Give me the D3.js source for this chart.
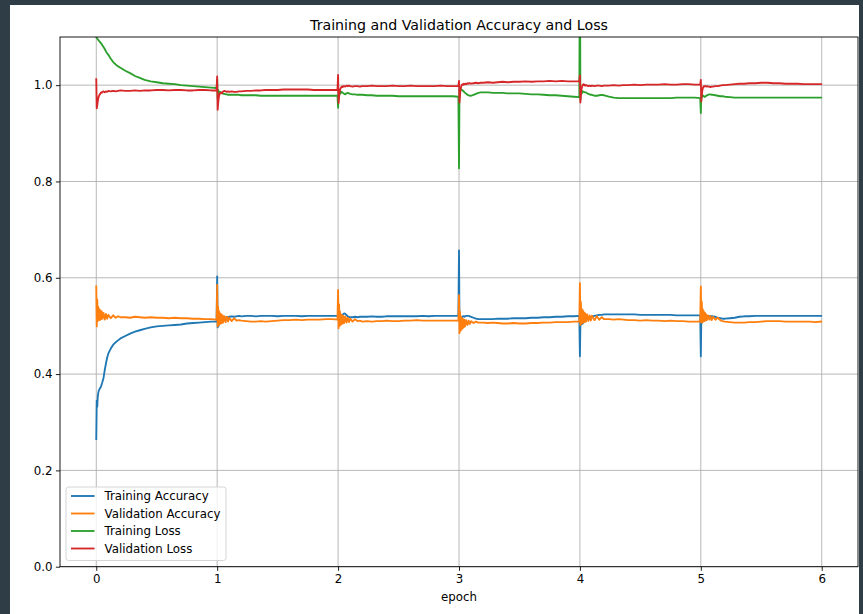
<!DOCTYPE html>
<html>
<head>
<meta charset="utf-8">
<script src="https://cdn.jsdelivr.net/npm/d3@7"></script>
<style>
  html, body { margin: 0; padding: 0; background: #2f3d47; }
  svg { display: block; font-family: "DejaVu Sans", sans-serif; }
</style>
</head>
<body>
<svg id="chart" width="863" height="614"></svg>
<script>
// ---- data ------------------------------------------------------------
const epochTicks = [0, 1, 2, 3, 4, 5, 6];
const valueTicks = [0.0, 0.2, 0.4, 0.6, 0.8, 1.0];

// logged positions inside one epoch (denser right after each epoch start)
const stepOffsets = [0, 0.004, 0.008, 0.012, 0.016, 0.02, 0.025, 0.03, 0.035, 0.04,
  0.045, 0.05, 0.06, 0.07, 0.08, 0.09, 0.1, 0.12, 0.14, 0.16, 0.18, 0.2, 0.24, 0.28,
  0.32, 0.36, 0.4, 0.45, 0.5, 0.55, 0.6, 0.65, 0.7, 0.75, 0.8, 0.85, 0.9, 0.95, 0.995];

// one row per epoch, one value per step offset
const trainAcc = [
  [0.265, 0.345, 0.332, 0.352, 0.36, 0.365, 0.368, 0.37, 0.372, 0.375, 0.379, 0.383, 0.392, 0.408, 0.422, 0.434, 0.443, 0.453, 0.461, 0.466, 0.470, 0.474, 0.479, 0.484, 0.488, 0.491, 0.494, 0.497, 0.499, 0.500, 0.501, 0.502, 0.503, 0.505, 0.506, 0.507, 0.508, 0.509, 0.509],
  [0.603, 0.497, 0.515, 0.5, 0.512, 0.506, 0.514, 0.51, 0.516, 0.513, 0.517, 0.515, 0.518, 0.517, 0.519, 0.518, 0.519, 0.52, 0.519, 0.52, 0.521, 0.52, 0.521, 0.521, 0.52, 0.521, 0.521, 0.521, 0.52, 0.521, 0.521, 0.521, 0.52, 0.521, 0.521, 0.521, 0.521, 0.521, 0.521],
  [0.52, 0.516, 0.52, 0.514, 0.519, 0.517, 0.52, 0.521, 0.522, 0.524, 0.525, 0.526, 0.525, 0.522, 0.52, 0.518, 0.518, 0.518, 0.519, 0.518, 0.519, 0.519, 0.519, 0.52, 0.519, 0.519, 0.52, 0.52, 0.52, 0.52, 0.52, 0.52, 0.521, 0.52, 0.521, 0.521, 0.521, 0.521, 0.521],
  [0.657, 0.512, 0.518, 0.515, 0.519, 0.517, 0.518, 0.519, 0.52, 0.52, 0.519, 0.52, 0.521, 0.521, 0.521, 0.52, 0.519, 0.517, 0.515, 0.514, 0.514, 0.514, 0.514, 0.514, 0.515, 0.515, 0.515, 0.516, 0.516, 0.516, 0.517, 0.517, 0.518, 0.518, 0.519, 0.519, 0.52, 0.52, 0.521],
  [0.437, 0.503, 0.502, 0.505, 0.504, 0.506, 0.505, 0.507, 0.508, 0.509, 0.511, 0.512, 0.514, 0.516, 0.518, 0.519, 0.52, 0.521, 0.522, 0.523, 0.523, 0.524, 0.524, 0.524, 0.524, 0.524, 0.524, 0.524, 0.523, 0.523, 0.523, 0.523, 0.523, 0.523, 0.522, 0.522, 0.522, 0.522, 0.522],
  [0.437, 0.51, 0.506, 0.512, 0.51, 0.514, 0.513, 0.515, 0.516, 0.517, 0.518, 0.518, 0.519, 0.52, 0.52, 0.52, 0.52, 0.519, 0.517, 0.516, 0.515, 0.515, 0.516, 0.517, 0.519, 0.52, 0.52, 0.521, 0.521, 0.521, 0.521, 0.521, 0.521, 0.521, 0.521, 0.521, 0.521, 0.521, 0.521]
];

const valAcc = [
  [0.582, 0.499, 0.555, 0.51, 0.54, 0.513, 0.535, 0.512, 0.532, 0.514, 0.53, 0.515, 0.527, 0.513, 0.525, 0.515, 0.523, 0.516, 0.522, 0.517, 0.52, 0.518, 0.518, 0.517, 0.519, 0.518, 0.517, 0.518, 0.517, 0.517, 0.516, 0.517, 0.516, 0.516, 0.515, 0.515, 0.514, 0.514, 0.513],
  [0.585, 0.499, 0.54, 0.502, 0.53, 0.504, 0.526, 0.505, 0.524, 0.506, 0.522, 0.507, 0.52, 0.508, 0.519, 0.509, 0.517, 0.51, 0.516, 0.511, 0.512, 0.511, 0.51, 0.509, 0.509, 0.51, 0.509, 0.51, 0.511, 0.512, 0.512, 0.513, 0.512, 0.513, 0.513, 0.513, 0.514, 0.514, 0.513],
  [0.575, 0.495, 0.545, 0.5, 0.53, 0.502, 0.524, 0.504, 0.522, 0.505, 0.52, 0.506, 0.519, 0.507, 0.517, 0.508, 0.515, 0.509, 0.514, 0.51, 0.511, 0.509, 0.51, 0.509, 0.51, 0.51, 0.511, 0.51, 0.51, 0.511, 0.511, 0.512, 0.511, 0.511, 0.511, 0.511, 0.511, 0.511, 0.511],
  [0.564, 0.485, 0.53, 0.49, 0.52, 0.492, 0.516, 0.495, 0.514, 0.497, 0.513, 0.499, 0.512, 0.502, 0.511, 0.504, 0.51, 0.506, 0.509, 0.507, 0.507, 0.507, 0.506, 0.507, 0.506, 0.505, 0.505, 0.506, 0.505, 0.505, 0.506, 0.506, 0.507, 0.507, 0.508, 0.508, 0.508, 0.509, 0.509],
  [0.589, 0.502, 0.55, 0.505, 0.535, 0.506, 0.532, 0.507, 0.528, 0.508, 0.526, 0.509, 0.524, 0.51, 0.522, 0.511, 0.521, 0.512, 0.52, 0.513, 0.518, 0.514, 0.514, 0.513, 0.514, 0.513, 0.512, 0.512, 0.511, 0.512, 0.511, 0.511, 0.51, 0.511, 0.51, 0.51, 0.509, 0.509, 0.509],
  [0.582, 0.507, 0.55, 0.508, 0.535, 0.509, 0.53, 0.51, 0.527, 0.511, 0.524, 0.512, 0.522, 0.513, 0.52, 0.512, 0.519, 0.513, 0.517, 0.512, 0.51, 0.509, 0.508, 0.507, 0.507, 0.507, 0.508, 0.508, 0.509, 0.51, 0.51, 0.51, 0.509, 0.509, 0.509, 0.509, 0.509, 0.508, 0.509]
];

const trainLoss = [
  [1.1, 1.098, 1.097, 1.095, 1.094, 1.093, 1.091, 1.09, 1.088, 1.087, 1.085, 1.083, 1.079, 1.075, 1.07, 1.066, 1.063, 1.055, 1.048, 1.043, 1.039, 1.036, 1.03, 1.025, 1.019, 1.015, 1.011, 1.008, 1.006, 1.004, 1.003, 1.002, 1.0, 0.999, 0.998, 0.997, 0.996, 0.995, 0.994],
  [1.012, 0.972, 0.99, 0.98, 0.987, 0.983, 0.986, 0.985, 0.984, 0.984, 0.983, 0.982, 0.982, 0.981, 0.981, 0.98, 0.98, 0.98, 0.98, 0.98, 0.98, 0.979, 0.979, 0.979, 0.979, 0.978, 0.978, 0.978, 0.978, 0.978, 0.978, 0.978, 0.978, 0.978, 0.978, 0.978, 0.978, 0.978, 0.978],
  [0.953, 0.99, 0.975, 0.988, 0.982, 0.987, 0.984, 0.986, 0.985, 0.984, 0.983, 0.982, 0.981, 0.983, 0.984, 0.983, 0.982, 0.981, 0.981, 0.98, 0.98, 0.98, 0.979, 0.979, 0.978, 0.978, 0.978, 0.978, 0.977, 0.977, 0.977, 0.977, 0.977, 0.977, 0.977, 0.977, 0.977, 0.977, 0.976],
  [0.8275, 0.99, 0.985, 0.992, 0.99, 0.991, 0.99, 0.989, 0.988, 0.987, 0.985, 0.984, 0.982, 0.98, 0.979, 0.978, 0.978, 0.98, 0.982, 0.984, 0.985, 0.985, 0.985, 0.984, 0.984, 0.984, 0.983, 0.983, 0.983, 0.982, 0.981, 0.981, 0.98, 0.979, 0.979, 0.978, 0.977, 0.976, 0.975],
  [1.3, 0.97, 0.99, 0.982, 0.988, 0.984, 0.987, 0.986, 0.986, 0.985, 0.985, 0.985, 0.983, 0.982, 0.981, 0.98, 0.98, 0.978, 0.978, 0.979, 0.98, 0.979, 0.976, 0.974, 0.973, 0.973, 0.973, 0.973, 0.973, 0.973, 0.973, 0.973, 0.973, 0.973, 0.974, 0.974, 0.974, 0.974, 0.973],
  [0.942, 0.98, 0.975, 0.979, 0.977, 0.978, 0.977, 0.976, 0.976, 0.977, 0.978, 0.979, 0.98, 0.981, 0.981, 0.98, 0.98, 0.979, 0.978, 0.977, 0.977, 0.976, 0.975, 0.974, 0.974, 0.974, 0.974, 0.974, 0.974, 0.974, 0.974, 0.974, 0.974, 0.974, 0.974, 0.974, 0.974, 0.974, 0.974]
];

const valLoss = [
  [1.0125, 0.952, 0.958, 0.966, 0.972, 0.976, 0.979, 0.981, 0.983, 0.985, 0.984, 0.986, 0.987, 0.985, 0.987, 0.986, 0.988, 0.987, 0.988, 0.987, 0.988, 0.989, 0.988, 0.988, 0.989, 0.988, 0.989, 0.989, 0.99, 0.99, 0.989, 0.99, 0.99, 0.989, 0.989, 0.99, 0.99, 0.989, 0.989],
  [1.018, 0.949, 0.962, 0.972, 0.978, 0.982, 0.984, 0.983, 0.985, 0.983, 0.986, 0.987, 0.988, 0.987, 0.986, 0.987, 0.986, 0.987, 0.986, 0.986, 0.987, 0.987, 0.988, 0.988, 0.989, 0.989, 0.99, 0.99, 0.99, 0.991, 0.991, 0.991, 0.991, 0.991, 0.99, 0.99, 0.99, 0.99, 0.99],
  [1.021, 0.963, 0.975, 0.985, 0.99, 0.993, 0.995, 0.997, 0.996, 0.998, 0.997, 0.998, 0.997, 0.999, 0.998, 0.999, 0.998, 0.997, 0.998, 0.998, 0.997, 0.998, 0.998, 0.999, 0.998, 0.998, 0.998, 0.999, 0.998, 0.998, 0.999, 0.998, 0.998, 0.998, 0.998, 0.999, 0.998, 0.998, 0.998],
  [1.009, 0.964, 0.978, 0.99, 0.995, 0.999, 1.001, 1.002, 1.001, 1.003, 1.002, 1.003, 1.002, 1.004, 1.003, 1.004, 1.003, 1.004, 1.005, 1.004, 1.005, 1.005, 1.006, 1.005, 1.006, 1.007, 1.006, 1.007, 1.007, 1.008, 1.007, 1.008, 1.008, 1.009, 1.008, 1.009, 1.008, 1.008, 1.008],
  [1.02, 0.964, 0.978, 0.99, 0.995, 0.999, 1.001, 1.002, 1.0, 1.001, 0.999, 1.0, 0.999, 0.998, 0.999, 0.998, 0.999, 0.998, 0.999, 0.999, 0.998, 0.999, 0.999, 1.0, 0.999, 1.0, 1.0, 1.001, 1.0, 1.001, 1.001, 1.001, 1.002, 1.001, 1.001, 1.002, 1.002, 1.001, 1.001],
  [1.011, 0.966, 0.978, 0.988, 0.993, 0.996, 0.998, 0.997, 0.998, 0.998, 0.997, 0.998, 0.997, 0.997, 0.996, 0.997, 0.997, 0.998, 0.998, 0.999, 1.0, 1.0, 1.001, 1.002, 1.003, 1.003, 1.004, 1.004, 1.005, 1.005, 1.004, 1.004, 1.003, 1.003, 1.003, 1.002, 1.002, 1.002, 1.002]
];

const seriesNames = ["Training Accuracy", "Validation Accuracy", "Training Loss", "Validation Loss"];
const seriesColors = ["#1f77b4", "#ff7f0e", "#2ca02c", "#d62728"];
const seriesValues = [trainAcc, valAcc, trainLoss, valLoss];

// ---- layout ----------------------------------------------------------
const svg = d3.select("#chart");
const plot = { left: 60, right: 858, top: 37, bottom: 566.7 };
const FONT = 11.8;

// white figure canvas
svg.append("rect").attr("x", 10).attr("y", 5).attr("width", 849).attr("height", 609).attr("fill", "#ffffff");

const x = d3.scaleLinear().domain([-0.3, 6.3]).range([plot.left, plot.right]);
const y = d3.scaleLinear().domain([0, 1.1]).range([plot.bottom, plot.top]);

// grid
const grid = svg.append("g").attr("stroke", "#b0b0b0").attr("stroke-width", 0.9);
grid.selectAll("line.vx").data(epochTicks).join("line")
  .attr("x1", d => x(d)).attr("x2", d => x(d)).attr("y1", plot.top).attr("y2", plot.bottom);
grid.selectAll("line.hy").data(valueTicks).join("line")
  .attr("x1", plot.left).attr("x2", plot.right).attr("y1", d => y(d)).attr("y2", d => y(d));

// series lines, clipped to the axes box
svg.append("clipPath").attr("id", "plotClip").append("rect")
  .attr("x", plot.left).attr("y", plot.top)
  .attr("width", plot.right - plot.left).attr("height", plot.bottom - plot.top);

const line = d3.line().x(d => x(d.x)).y(d => y(d.y));
const series = seriesValues.map((rows, k) => ({
  name: seriesNames[k],
  color: seriesColors[k],
  points: rows.flatMap((vals, e) => vals.map((v, i) => ({ x: e + stepOffsets[i], y: v })))
}));

svg.append("g").attr("clip-path", "url(#plotClip)")
  .selectAll("path").data(series).join("path")
  .attr("d", d => line(d.points))
  .attr("fill", "none")
  .attr("stroke", d => d.color)
  .attr("stroke-width", 1.85)
  .attr("stroke-linejoin", "round")
  .attr("stroke-linecap", "square");

// axes
const xAxis = d3.axisBottom(x).tickValues(epochTicks).tickFormat(d3.format("d"))
  .tickSize(4.1).tickPadding(3.5);
const yAxis = d3.axisLeft(y).tickValues(valueTicks).tickFormat(d3.format(".1f"))
  .tickSize(4.1).tickPadding(3.5);

const gx = svg.append("g").attr("transform", `translate(0,${plot.bottom})`).call(xAxis);
const gy = svg.append("g").attr("transform", `translate(${plot.left},0)`).call(yAxis);
[gx, gy].forEach(g => {
  g.select(".domain").remove();
  g.selectAll(".tick line").attr("stroke", "#000").attr("stroke-width", 0.9);
  g.selectAll(".tick text").attr("fill", "#000").attr("font-size", FONT)
    .attr("font-family", "DejaVu Sans, sans-serif");
});

// axes frame
svg.append("rect")
  .attr("x", plot.left).attr("y", plot.top)
  .attr("width", plot.right - plot.left).attr("height", plot.bottom - plot.top)
  .attr("fill", "none").attr("stroke", "#000").attr("stroke-width", 0.9);

// title and axis label
svg.append("text").attr("x", (plot.left + plot.right) / 2).attr("y", 29.5)
  .attr("text-anchor", "middle").attr("font-size", 14.2).attr("fill", "#000")
  .text("Training and Validation Accuracy and Loss");
svg.append("text").attr("x", (plot.left + plot.right) / 2).attr("y", 600.5)
  .attr("text-anchor", "middle").attr("font-size", FONT).attr("fill", "#000")
  .text("epoch");

// legend (lower left)
const legend = svg.append("g");
legend.append("rect")
  .attr("x", 66).attr("y", 487).attr("width", 160).attr("height", 73.5)
  .attr("rx", 2.5).attr("fill", "#ffffff").attr("fill-opacity", 0.8)
  .attr("stroke", "#d0d0d0").attr("stroke-width", 0.9);
const rows = legend.selectAll("g.row").data(series).join("g")
  .attr("transform", (d, i) => `translate(0,${496 + i * 17.5})`);
rows.append("line").attr("x1", 71).attr("x2", 94.5).attr("y1", 0).attr("y2", 0)
  .attr("stroke", d => d.color).attr("stroke-width", 1.85);
rows.append("text").attr("x", 104.5).attr("y", 0).attr("dy", "0.36em")
  .attr("font-size", FONT).attr("fill", "#000").text(d => d.name);
</script>
</body>
</html>
